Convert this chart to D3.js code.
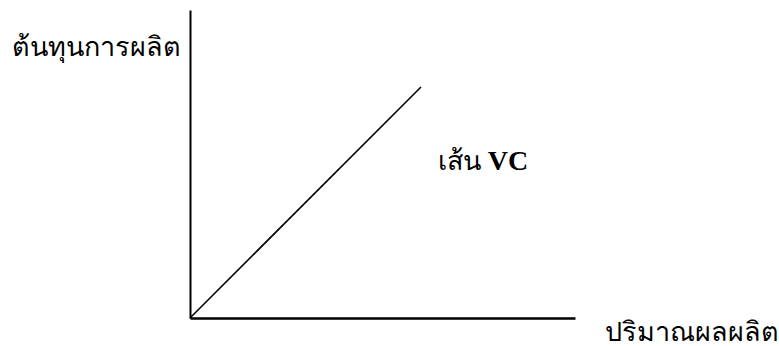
<!DOCTYPE html>
<html>
<head>
<meta charset="utf-8">
<script src="https://cdn.jsdelivr.net/npm/d3@7"></script>
<style>
body { margin: 0; background: #fff; }
text { font-family: "Liberation Serif", "DejaVu Serif", serif; fill: #000; }
</style>
</head>
<body>
<svg id="chart" width="779" height="346"></svg>
<script>
var quantity = [0, 6];
var vc = [0, 6];
var yLabel = "ต้นทุนการผลิต";
var xLabel = "ปริมาณผลผลิต";
var lineLabel = ["เส้น ", "VC"];

var svg = d3.select("#chart");
var x = d3.scaleLinear().domain([0, 10]).range([190, 575]);
var y = d3.scaleLinear().domain([0, 8]).range([318, 10]);

// axes without ticks
svg.append("g")
  .attr("transform", "translate(0," + y(0) + ")")
  .call(d3.axisBottom(x).tickValues([]).tickSizeOuter(0))
  .select(".domain").attr("stroke", "#000").attr("stroke-width", 2.5);
svg.append("g")
  .attr("transform", "translate(" + x(0) + ",0)")
  .call(d3.axisLeft(y).tickValues([]).tickSizeOuter(0))
  .select(".domain").attr("stroke", "#000").attr("stroke-width", 2);

var pts = quantity.map(function(d, i) { return [d, vc[i]]; });
svg.append("path")
  .datum(pts)
  .attr("fill", "none")
  .attr("stroke", "#000")
  .attr("stroke-width", 1.6)
  .attr("d", d3.line().x(function(d) { return x(d[0]); }).y(function(d) { return y(d[1]); }));

svg.append("text").attr("x", 12).attr("y", 56).attr("font-size", 27).text(yLabel);
svg.append("text").attr("x", 605).attr("y", 341).attr("font-size", 27).text(xLabel);
var t = svg.append("text").attr("x", 438).attr("y", 170).attr("font-size", 27);
t.append("tspan").text(lineLabel[0]);
t.append("tspan").attr("font-weight", "bold").attr("font-size", 28).text(lineLabel[1]);
</script>
</body>
</html>
